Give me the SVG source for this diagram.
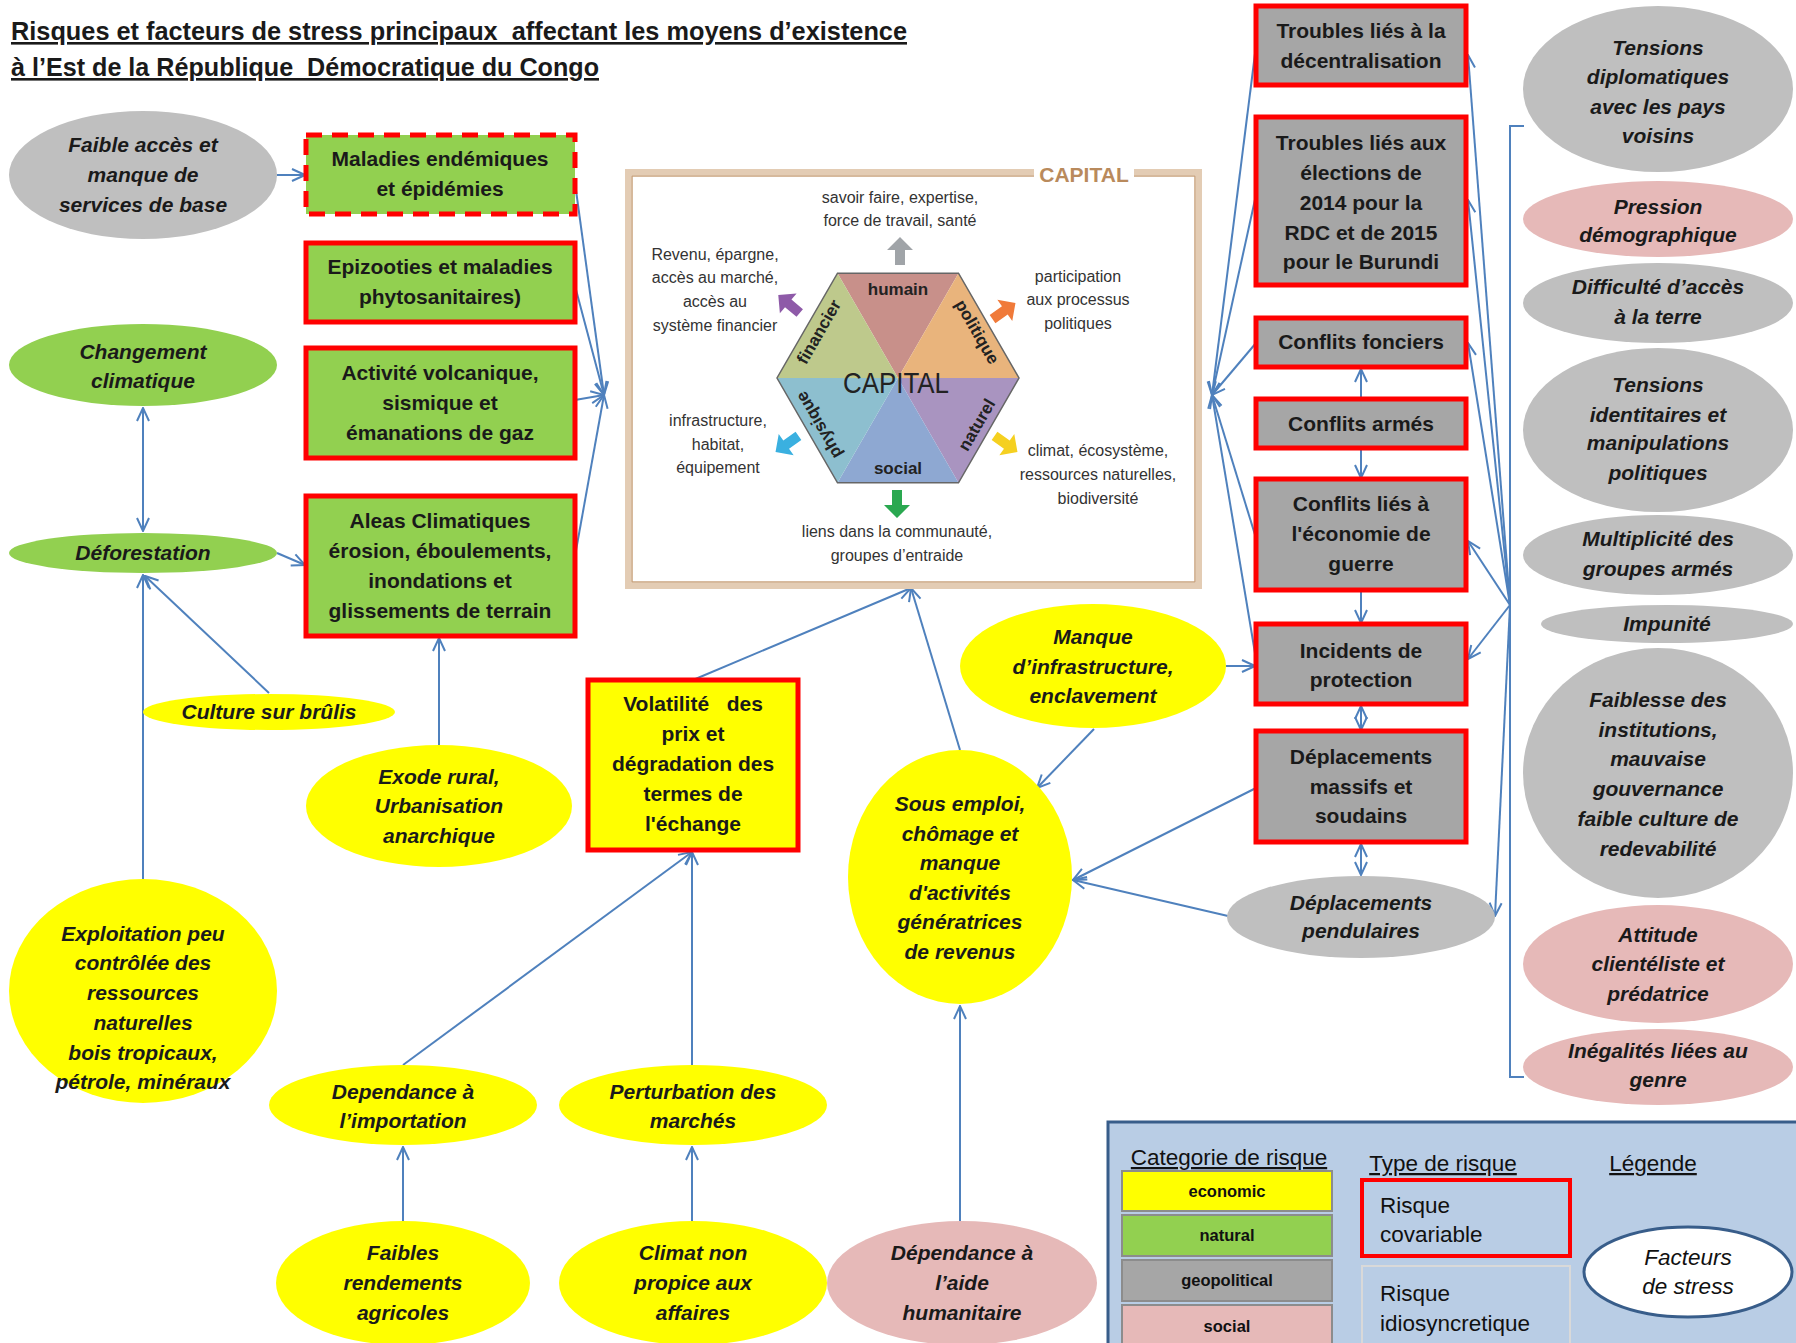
<svg xmlns="http://www.w3.org/2000/svg" width="1796" height="1343" viewBox="0 0 1796 1343">
<defs>
<style>
text{font-family:"Liberation Sans",Arial,sans-serif;}
.t{font-weight:bold;font-size:21px;fill:#1a1a1a;text-anchor:middle;}
.ti{font-weight:bold;font-style:italic;font-size:21px;fill:#1a1a1a;text-anchor:middle;}
.rb{stroke:#ff0000;stroke-width:5;}
.green{fill:#92d050;}
.yellow{fill:#ffff00;}
.gbox{fill:#a6a6a6;}
.gell{fill:#bfbfbf;}
.pink{fill:#e6b9b8;}
.c{stroke:#4f81bd;stroke-width:2;fill:none;marker-end:url(#ah);}
.cb{stroke:#4f81bd;stroke-width:2;fill:none;marker-end:url(#ah);marker-start:url(#ah);}
.n{stroke:#4f81bd;stroke-width:2;fill:none;}
.hx{font-size:16px;fill:#333;text-anchor:middle;}
.hl{font-size:17px;font-weight:bold;fill:#222;text-anchor:middle;dominant-baseline:central;}
.lg{font-size:22.5px;fill:#111;}
.cat{font-size:16.5px;font-weight:bold;fill:#111;text-anchor:middle;}
</style>
<marker id="ah" markerUnits="userSpaceOnUse" markerWidth="16" markerHeight="16" viewBox="0 0 16 16" refX="15" refY="8" orient="auto-start-reverse">
<path d="M2,2 L15,8 L2,14" fill="none" stroke="#4f81bd" stroke-width="2"/>
</marker>
<path id="barrow" d="M0,-14 L13,-1 L5,-1 L5,14 L-5,14 L-5,-1 L-13,-1 Z"/>
</defs>
<rect width="1796" height="1343" fill="#ffffff"/>

<g id="title">
<text x="11" y="40" xml:space="preserve" font-size="26" font-weight="bold" fill="#1a1a1a" text-decoration="underline" textLength="896" lengthAdjust="spacingAndGlyphs">Risques et facteurs de stress principaux  affectant les moyens d’existence</text>
<text x="11" y="76" xml:space="preserve" font-size="26" font-weight="bold" fill="#1a1a1a" text-decoration="underline" textLength="588" lengthAdjust="spacingAndGlyphs">à l’Est de la République  Démocratique du Congo</text>
</g>

<g id="connectors">
<line class="c" x1="277" y1="175" x2="305" y2="175"/>
<line class="cb" x1="143" y1="408" x2="143" y2="531"/>
<line class="c" x1="277" y1="553" x2="305" y2="565"/>
<line class="c" x1="143" y1="880" x2="143" y2="575"/>
<line class="c" x1="269" y1="693" x2="145" y2="576"/>
<line class="c" x1="439" y1="746" x2="439" y2="638"/>
<line class="c" x1="575" y1="183" x2="604" y2="395"/>
<line class="c" x1="575" y1="286" x2="604" y2="395"/>
<line class="c" x1="575" y1="400" x2="604" y2="395"/>
<line class="c" x1="575" y1="556" x2="604" y2="395"/>
<line class="c" x1="1256" y1="46" x2="1212" y2="395"/>
<line class="c" x1="1256" y1="195" x2="1212" y2="395"/>
<line class="c" x1="1256" y1="343" x2="1212" y2="395"/>
<line class="c" x1="1256" y1="538" x2="1212" y2="395"/>
<line class="c" x1="1256" y1="659" x2="1212" y2="395"/>
<line class="c" x1="1510" y1="605" x2="1468" y2="55"/>
<line class="c" x1="1510" y1="605" x2="1468" y2="200"/>
<line class="c" x1="1510" y1="605" x2="1468" y2="343"/>
<line class="c" x1="1510" y1="605" x2="1468" y2="541"/>
<line class="c" x1="1510" y1="605" x2="1468" y2="659"/>
<line class="c" x1="1510" y1="605" x2="1495" y2="916"/>
<path class="n" d="M1524,126 H1510 V1077 H1524"/>
<line class="c" x1="1361" y1="399" x2="1361" y2="369"/>
<line class="c" x1="1361" y1="448" x2="1361" y2="478"/>
<line class="c" x1="1361" y1="590" x2="1361" y2="623"/>
<line class="cb" x1="1361" y1="706" x2="1361" y2="730"/>
<line class="cb" x1="1361" y1="844" x2="1361" y2="875"/>
<line class="c" x1="1226" y1="666" x2="1255" y2="666"/>
<line class="c" x1="1094" y1="729" x2="1037" y2="788"/>
<line class="c" x1="1256" y1="788" x2="1073" y2="880"/>
<line class="c" x1="1228" y1="916" x2="1073" y2="880"/>
<line class="c" x1="960" y1="750" x2="911" y2="588"/>
<line class="c" x1="693" y1="680" x2="911" y2="588"/>
<line class="c" x1="403" y1="1065" x2="692" y2="852"/>
<line class="c" x1="692" y1="1065" x2="692" y2="852"/>
<line class="c" x1="692" y1="1221" x2="692" y2="1147"/>
<line class="c" x1="403" y1="1221" x2="403" y2="1147"/>
<line class="c" x1="960" y1="1221" x2="960" y2="1006"/>
</g>

<g id="capital">
<rect x="628" y="172" width="571" height="414" fill="#ffffff" stroke="#e3ccb4" stroke-width="6"/>
<rect x="632" y="176" width="563" height="406" fill="none" stroke="#c9a27c" stroke-width="1.5"/>
<rect x="1034" y="162" width="100" height="22" fill="#ffffff"/>
<text x="1084" y="182" font-size="21" font-weight="bold" fill="#b98a5c" text-anchor="middle">CAPITAL</text>
<polygon points="898,378 837.5,273.2 958.5,273.2" fill="#c8908a"/>
<polygon points="898,378 958.5,273.2 1019,378" fill="#e9b47c"/>
<polygon points="898,378 1019,378 958.5,482.8" fill="#a994c0"/>
<polygon points="898,378 958.5,482.8 837.5,482.8" fill="#8ea8d2"/>
<polygon points="898,378 837.5,482.8 777,378" fill="#8dbfcf"/>
<polygon points="898,378 777,378 837.5,273.2" fill="#bec98c"/>
<polygon points="837.5,273.2 958.5,273.2 1019,378 958.5,482.8 837.5,482.8 777,378" fill="none" stroke="#666" stroke-width="1.5"/>
<text class="hl" x="898" y="289">humain</text>
<text class="hl" x="898" y="468">social</text>
<text class="hl" transform="translate(977,332) rotate(60)">politique</text>
<text class="hl" transform="translate(977,425) rotate(-60)">naturel</text>
<text class="hl" transform="translate(819,332) rotate(-60)">financier</text>
<text class="hl" transform="translate(819,425) rotate(-120)">physique</text>
<text x="896" y="393" font-size="29" fill="#222" text-anchor="middle" textLength="106" lengthAdjust="spacingAndGlyphs">CAPITAL</text>
<use href="#barrow" transform="translate(900,251)" fill="#a0a4a8"/>
<use href="#barrow" transform="translate(789,304) rotate(-50)" fill="#8e5aa8"/>
<use href="#barrow" transform="translate(1004,311) rotate(55)" fill="#f07a3a"/>
<use href="#barrow" transform="translate(787,444) rotate(-125)" fill="#3ab0e0"/>
<use href="#barrow" transform="translate(1006,444) rotate(125)" fill="#f5d020"/>
<use href="#barrow" transform="translate(897,504) rotate(180)" fill="#2aa850"/>
<text class="hx" x="900" y="203">savoir faire, expertise,</text>
<text class="hx" x="900" y="226">force de travail, santé</text>
<text class="hx" x="715" y="260">Revenu, épargne,</text>
<text class="hx" x="715" y="283">accès au marché,</text>
<text class="hx" x="715" y="307">accès au</text>
<text class="hx" x="715" y="331">système financier</text>
<text class="hx" x="1078" y="282">participation</text>
<text class="hx" x="1078" y="305">aux processus</text>
<text class="hx" x="1078" y="329">politiques</text>
<text class="hx" x="718" y="426">infrastructure,</text>
<text class="hx" x="718" y="450">habitat,</text>
<text class="hx" x="718" y="473">équipement</text>
<text class="hx" x="1098" y="456">climat, écosystème,</text>
<text class="hx" x="1098" y="480">ressources naturelles,</text>
<text class="hx" x="1098" y="504">biodiversité</text>
<text class="hx" x="897" y="537">liens dans la communauté,</text>
<text class="hx" x="897" y="561">groupes d’entraide</text>
</g>

<g id="faible-acces"><ellipse class="gell" cx="143" cy="175" rx="134" ry="64"/>
<text class="ti" x="143" y="152">Faible accès et</text><text class="ti" x="143" y="182">manque de</text><text class="ti" x="143" y="212">services de base</text></g>
<g id="maladies"><rect class="green rb" x="306" y="135" width="269" height="79" stroke-dasharray="16 10"/>
<text class="t" x="440" y="166">Maladies endémiques</text><text class="t" x="440" y="196">et épidémies</text></g>
<g id="epizooties"><rect class="green rb" x="306" y="243" width="269" height="79"/>
<text class="t" x="440" y="274">Epizooties et maladies</text><text class="t" x="440" y="304">phytosanitaires)</text></g>
<g id="volcanique"><rect class="green rb" x="306" y="348" width="269" height="110"/>
<text class="t" x="440" y="380">Activité volcanique,</text><text class="t" x="440" y="410">sismique et</text><text class="t" x="440" y="440">émanations de gaz</text></g>
<g id="aleas"><rect class="green rb" x="306" y="496" width="269" height="140"/>
<text class="t" x="440" y="528">Aleas Climatiques</text><text class="t" x="440" y="558">érosion, éboulements,</text><text class="t" x="440" y="588">inondations et</text><text class="t" x="440" y="618">glissements de terrain</text></g>
<g id="changement"><ellipse class="green" cx="143" cy="365" rx="134" ry="41"/>
<text class="ti" x="143" y="359">Changement</text><text class="ti" x="143" y="388">climatique</text></g>
<g id="deforestation"><ellipse class="green" cx="143" cy="553" rx="134" ry="20"/>
<text class="ti" x="143" y="560">Déforestation</text></g>
<g id="culture"><ellipse class="yellow" cx="269" cy="712" rx="126" ry="18"/>
<text class="ti" x="269" y="719">Culture sur brûlis</text></g>
<g id="exode"><ellipse class="yellow" cx="439" cy="806" rx="133" ry="61"/>
<text class="ti" x="439" y="784">Exode rural,</text><text class="ti" x="439" y="813">Urbanisation</text><text class="ti" x="439" y="843">anarchique</text></g>
<g id="exploitation"><ellipse class="yellow" cx="143" cy="991" rx="134" ry="112"/>
<text class="ti" x="143" y="941">Exploitation peu</text><text class="ti" x="143" y="970">contrôlée des</text><text class="ti" x="143" y="1000">ressources</text><text class="ti" x="143" y="1030">naturelles</text><text class="ti" x="143" y="1060">bois tropicaux,</text><text class="ti" x="143" y="1089">pétrole, minéraux</text></g>
<g id="dependance-import"><ellipse class="yellow" cx="403" cy="1105" rx="134" ry="40"/>
<text class="ti" x="403" y="1099">Dependance à</text><text class="ti" x="403" y="1128">l’importation</text></g>
<g id="faibles-rendements"><ellipse class="yellow" cx="403" cy="1283" rx="127" ry="62"/>
<text class="ti" x="403" y="1260">Faibles</text><text class="ti" x="403" y="1290">rendements</text><text class="ti" x="403" y="1320">agricoles</text></g>
<g id="perturbation"><ellipse class="yellow" cx="693" cy="1105" rx="134" ry="40"/>
<text class="ti" x="693" y="1099">Perturbation des</text><text class="ti" x="693" y="1128">marchés</text></g>
<g id="climat"><ellipse class="yellow" cx="693" cy="1283" rx="134" ry="62"/>
<text class="ti" x="693" y="1260">Climat non</text><text class="ti" x="693" y="1290">propice aux</text><text class="ti" x="693" y="1320">affaires</text></g>
<g id="dependance-aide"><ellipse class="pink" cx="962" cy="1283" rx="135" ry="62"/>
<text class="ti" x="962" y="1260">Dépendance à</text><text class="ti" x="962" y="1290">l’aide</text><text class="ti" x="962" y="1320">humanitaire</text></g>
<g id="volatilite"><rect class="yellow rb" x="588" y="680" width="210" height="170"/>
<text class="t" x="693" y="711" xml:space="preserve">Volatilité   des</text><text class="t" x="693" y="741">prix et</text><text class="t" x="693" y="771">dégradation des</text><text class="t" x="693" y="801">termes de</text><text class="t" x="693" y="831">l'échange</text></g>
<g id="sous-emploi"><ellipse class="yellow" cx="960" cy="877" rx="112" ry="127"/>
<text class="ti" x="960" y="811">Sous emploi,</text><text class="ti" x="960" y="841">chômage et</text><text class="ti" x="960" y="870">manque</text><text class="ti" x="960" y="900">d'activités</text><text class="ti" x="960" y="929">génératrices</text><text class="ti" x="960" y="959">de revenus</text></g>
<g id="manque-infra"><ellipse class="yellow" cx="1093" cy="666" rx="133" ry="62"/>
<text class="ti" x="1093" y="644">Manque</text><text class="ti" x="1093" y="674">d’infrastructure,</text><text class="ti" x="1093" y="703">enclavement</text></g>

<g id="decentralisation"><rect class="gbox rb" x="1256" y="6" width="210" height="79"/>
<text class="t" x="1361" y="38">Troubles liés à la</text><text class="t" x="1361" y="68">décentralisation</text></g>
<g id="elections"><rect class="gbox rb" x="1256" y="117" width="210" height="168"/>
<text class="t" x="1361" y="150">Troubles liés aux</text><text class="t" x="1361" y="180">élections de</text><text class="t" x="1361" y="210">2014 pour la</text><text class="t" x="1361" y="240">RDC et de 2015</text><text class="t" x="1361" y="269">pour le Burundi</text></g>
<g id="fonciers"><rect class="gbox rb" x="1256" y="318" width="210" height="49"/>
<text class="t" x="1361" y="349">Conflits fonciers</text></g>
<g id="armes"><rect class="gbox rb" x="1256" y="399" width="210" height="49"/>
<text class="t" x="1361" y="431">Conflits armés</text></g>
<g id="economie-guerre"><rect class="gbox rb" x="1256" y="479" width="210" height="111"/>
<text class="t" x="1361" y="511">Conflits liés à</text><text class="t" x="1361" y="541">l'économie de</text><text class="t" x="1361" y="571">guerre</text></g>
<g id="incidents"><rect class="gbox rb" x="1256" y="624" width="210" height="80"/>
<text class="t" x="1361" y="658">Incidents de</text><text class="t" x="1361" y="687">protection</text></g>
<g id="deplacements-massifs"><rect class="gbox rb" x="1256" y="731" width="210" height="111"/>
<text class="t" x="1361" y="764">Déplacements</text><text class="t" x="1361" y="794">massifs et</text><text class="t" x="1361" y="823">soudains</text></g>
<g id="pendulaires"><ellipse class="gell" cx="1361" cy="917" rx="134" ry="41"/>
<text class="ti" x="1361" y="910">Déplacements</text><text class="ti" x="1361" y="938">pendulaires</text></g>

<g id="tensions-diplo"><ellipse class="gell" cx="1658" cy="89" rx="135" ry="83"/>
<text class="ti" x="1658" y="55">Tensions</text><text class="ti" x="1658" y="84">diplomatiques</text><text class="ti" x="1658" y="114">avec les pays</text><text class="ti" x="1658" y="143">voisins</text></g>
<g id="pression"><ellipse class="pink" cx="1658" cy="219" rx="135" ry="38"/>
<text class="ti" x="1658" y="214">Pression</text><text class="ti" x="1658" y="242" font-size="17">démographique</text></g>
<g id="difficulte-terre"><ellipse class="gell" cx="1658" cy="303" rx="135" ry="40"/>
<text class="ti" x="1658" y="294">Difficulté d’accès</text><text class="ti" x="1658" y="324">à la terre</text></g>
<g id="tensions-identitaires"><ellipse class="gell" cx="1658" cy="430" rx="135" ry="82"/>
<text class="ti" x="1658" y="392">Tensions</text><text class="ti" x="1658" y="422">identitaires et</text><text class="ti" x="1658" y="450">manipulations</text><text class="ti" x="1658" y="480">politiques</text></g>
<g id="multiplicite"><ellipse class="gell" cx="1658" cy="555" rx="135" ry="40"/>
<text class="ti" x="1658" y="546">Multiplicité des</text><text class="ti" x="1658" y="576">groupes armés</text></g>
<g id="impunite"><ellipse class="gell" cx="1667" cy="624" rx="126" ry="19"/>
<text class="ti" x="1667" y="631">Impunité</text></g>
<g id="faiblesse"><ellipse class="gell" cx="1658" cy="773" rx="135" ry="125"/>
<text class="ti" x="1658" y="707">Faiblesse des</text><text class="ti" x="1658" y="737">institutions,</text><text class="ti" x="1658" y="766">mauvaise</text><text class="ti" x="1658" y="796">gouvernance</text><text class="ti" x="1658" y="826">faible culture de</text><text class="ti" x="1658" y="856">redevabilité</text></g>
<g id="attitude"><ellipse class="pink" cx="1658" cy="964" rx="135" ry="59"/>
<text class="ti" x="1658" y="942">Attitude</text><text class="ti" x="1658" y="971">clientéliste et</text><text class="ti" x="1658" y="1001">prédatrice</text></g>
<g id="inegalites"><ellipse class="pink" cx="1658" cy="1067" rx="135" ry="38"/>
<text class="ti" x="1658" y="1058">Inégalités liées au</text><text class="ti" x="1658" y="1087">genre</text></g>

<g id="legend">
<rect x="1108" y="1122" width="700" height="240" fill="#b9cde5" stroke="#385d8a" stroke-width="3"/>
<text class="lg" x="1229" y="1165" text-anchor="middle" text-decoration="underline">Categorie de risque</text>
<rect x="1122" y="1171" width="210" height="40" fill="#ffff00" stroke="#8c8c8c" stroke-width="2"/>
<text class="cat" x="1227" y="1197">economic</text>
<rect x="1122" y="1215" width="210" height="41" fill="#92d050" stroke="#8c8c8c" stroke-width="2"/>
<text class="cat" x="1227" y="1241">natural</text>
<rect x="1122" y="1260" width="210" height="41" fill="#a6a6a6" stroke="#8c8c8c" stroke-width="2"/>
<text class="cat" x="1227" y="1286">geopolitical</text>
<rect x="1122" y="1305" width="210" height="45" fill="#e6b9b8" stroke="#8c8c8c" stroke-width="2"/>
<text class="cat" x="1227" y="1332">social</text>
<text class="lg" x="1443" y="1171" text-anchor="middle" text-decoration="underline">Type de risque</text>
<rect x="1362" y="1180" width="208" height="76" fill="none" stroke="#ff0000" stroke-width="4"/>
<text class="lg" x="1380" y="1213">Risque</text>
<text class="lg" x="1380" y="1242">covariable</text>
<rect x="1362" y="1266" width="208" height="90" fill="none" stroke="#d9d9d9" stroke-width="2"/>
<text class="lg" x="1380" y="1301">Risque</text>
<text class="lg" x="1380" y="1331">idiosyncretique</text>
<text class="lg" x="1653" y="1171" text-anchor="middle" text-decoration="underline">Légende</text>
<ellipse cx="1688" cy="1272" rx="104" ry="45" fill="#ffffff" stroke="#385d8a" stroke-width="3"/>
<text class="lg" x="1688" y="1265" text-anchor="middle" font-style="italic">Facteurs</text>
<text class="lg" x="1688" y="1294" text-anchor="middle" font-style="italic">de stress</text>
</g>
</svg>
